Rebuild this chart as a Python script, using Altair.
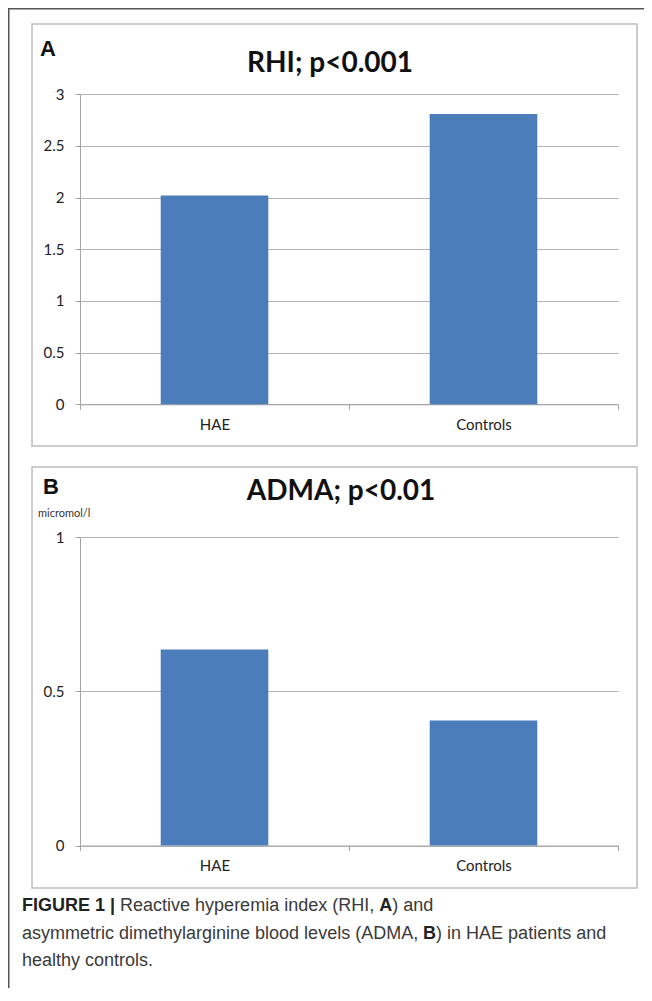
import altair as alt
import pandas as pd

# ---------------- data ----------------
categories = ["HAE", "Controls"]
rhi_values = [2.02, 2.81]
adma_values = [0.635, 0.405]
rhi_ticks = [0, 0.5, 1, 1.5, 2, 2.5, 3]
adma_ticks = [0, 0.5, 1]

panel_a_letter = "A"
panel_b_letter = "B"
panel_a_title = "RHI; p<0.001"
panel_b_title = "ADMA; p<0.01"
panel_b_unit = "micromol/l"

caption_l1 = ["FIGURE 1 |", "Reactive hyperemia index (RHI,", "A", ") and"]
caption_l2 = ["asymmetric dimethylarginine blood levels (ADMA,", "B", ") in HAE patients and"]
caption_l3 = ["healthy controls."]

# ---------------- styling ----------------
W, H = 636, 980
AXIS_GRAY = "#a6a6a6"
GRID_GRAY = "#b3b3b3"
BOX_GRAY = "#bdbdbd"
BAR = "#4A7DBA"
LFONT = "Lato"
CFONT = "Liberation Sans"

X_RANGE = [72, 610]
A_RANGE = [396.3, 86.3]
B_RANGE = [837.5, 529]

one = pd.DataFrame({"k": [0]})
dfA = pd.DataFrame({"group": categories, "value": rhi_values})
dfB = pd.DataFrame({"group": categories, "value": adma_values})


def x_enc(axis_y):
    return alt.X(
        "group:N", sort=categories,
        scale=alt.Scale(domain=categories, range=X_RANGE, paddingInner=0, paddingOuter=0),
        axis=alt.Axis(title=None, orient="bottom", offset=axis_y - H, tickBand="extent",
                      ticks=True, tickSize=5, tickColor=AXIS_GRAY, domainColor=AXIS_GRAY,
                      labelAngle=0, labelFont=LFONT, labelFontSize=15, labelColor="#222",
                      labelPadding=8, grid=False),
    )


def y_enc(domain, rng, ticks):
    return alt.Y(
        "value:Q",
        scale=alt.Scale(domain=domain, range=rng, nice=False, zero=True),
        axis=alt.Axis(title=None, orient="left", offset=-X_RANGE[0], values=ticks, format="~g",
                      tickSize=5, tickColor=AXIS_GRAY, domainColor=AXIS_GRAY,
                      grid=True, gridColor=GRID_GRAY, gridOpacity=1,
                      labelFont=LFONT, labelFontSize=15, labelColor="#222", labelPadding=11),
    )


def box(x1, y1, x2, y2):
    return alt.Chart(one).mark_rect(fill="white", fillOpacity=0, stroke=BOX_GRAY,
                                    strokeWidth=1.5).encode(
        x=alt.value(x1), x2=alt.value(x2), y=alt.value(y1), y2=alt.value(y2))


def txt(s, x, y, size, font, weight="normal", align="left", color="#111"):
    return alt.Chart(one).mark_text(
        text=s, font=font, fontSize=size, fontWeight=weight, align=align,
        baseline="alphabetic", color=color).encode(x=alt.value(x), y=alt.value(y))


frame_top = alt.Chart(one).mark_rule(color="#555", strokeWidth=1.5).encode(
    x=alt.value(0), x2=alt.value(W), y=alt.value(0.75))
frame_left = alt.Chart(one).mark_rule(color="#555", strokeWidth=1.5).encode(
    x=alt.value(0.75), y=alt.value(0), y2=alt.value(H))

boxA = box(24, 16, 629, 438)
boxB = box(24, 459, 629, 880)

barsA = alt.Chart(dfA).mark_bar(color=BAR, width={"band": 0.4}).encode(
    x=x_enc(A_RANGE[0]), y=y_enc([0, 3], A_RANGE, rhi_ticks))
barsB = alt.Chart(dfB).mark_bar(color=BAR, width={"band": 0.4}).encode(
    x=x_enc(B_RANGE[0]), y=y_enc([0, 1], B_RANGE, adma_ticks))

texts = [
    txt(panel_a_letter, 32, 48, 22, CFONT, "bold"),
    txt(panel_a_title, 322, 64, 28, LFONT, "bold", "center"),
    txt(panel_b_letter, 35, 486, 22, CFONT, "bold"),
    txt(panel_b_title, 333, 492, 28, LFONT, "bold", "center"),
    txt(panel_b_unit, 30, 509, 11, LFONT, "normal", "left", "#333"),
]

cs = 18
cx = 14
capcol = "#3a3a3a"
l1y, l2y, l3y = 903, 931, 958
x2a = cx + 5.170 * cs + 0.278 * cs
x3a = x2a + 14.115 * cs + 0.278 * cs
x4a = x3a + 0.722 * cs
texts += [
    txt(caption_l1[0], cx, l1y, cs, CFONT, "bold", "left", "#222"),
    txt(caption_l1[1], x2a, l1y, cs, CFONT, "normal", "left", capcol),
    txt(caption_l1[2], x3a, l1y, cs, CFONT, "bold", "left", "#222"),
    txt(caption_l1[3], x4a, l1y, cs, CFONT, "normal", "left", capcol),
]
x2b = cx + 22.005 * cs + 0.278 * cs
x3b = x2b + 0.722 * cs
texts += [
    txt(caption_l2[0], cx, l2y, cs, CFONT, "normal", "left", capcol),
    txt(caption_l2[1], x2b, l2y, cs, CFONT, "bold", "left", "#222"),
    txt(caption_l2[2], x3b, l2y, cs, CFONT, "normal", "left", capcol),
    txt(caption_l3[0], cx, l3y, cs, CFONT, "normal", "left", capcol),
]

chart = alt.layer(
    boxA, boxB, frame_top, frame_left, barsA, barsB, *texts
).resolve_scale(
    x="independent", y="independent"
).resolve_axis(
    x="independent", y="independent"
).properties(
    width=W, height=H, padding=0, autosize=alt.AutoSizeParams(type="none"),
    background="white"
).configure_view(strokeWidth=0)

chart.save("out.html", embed_options={"renderer": "svg", "actions": False})
